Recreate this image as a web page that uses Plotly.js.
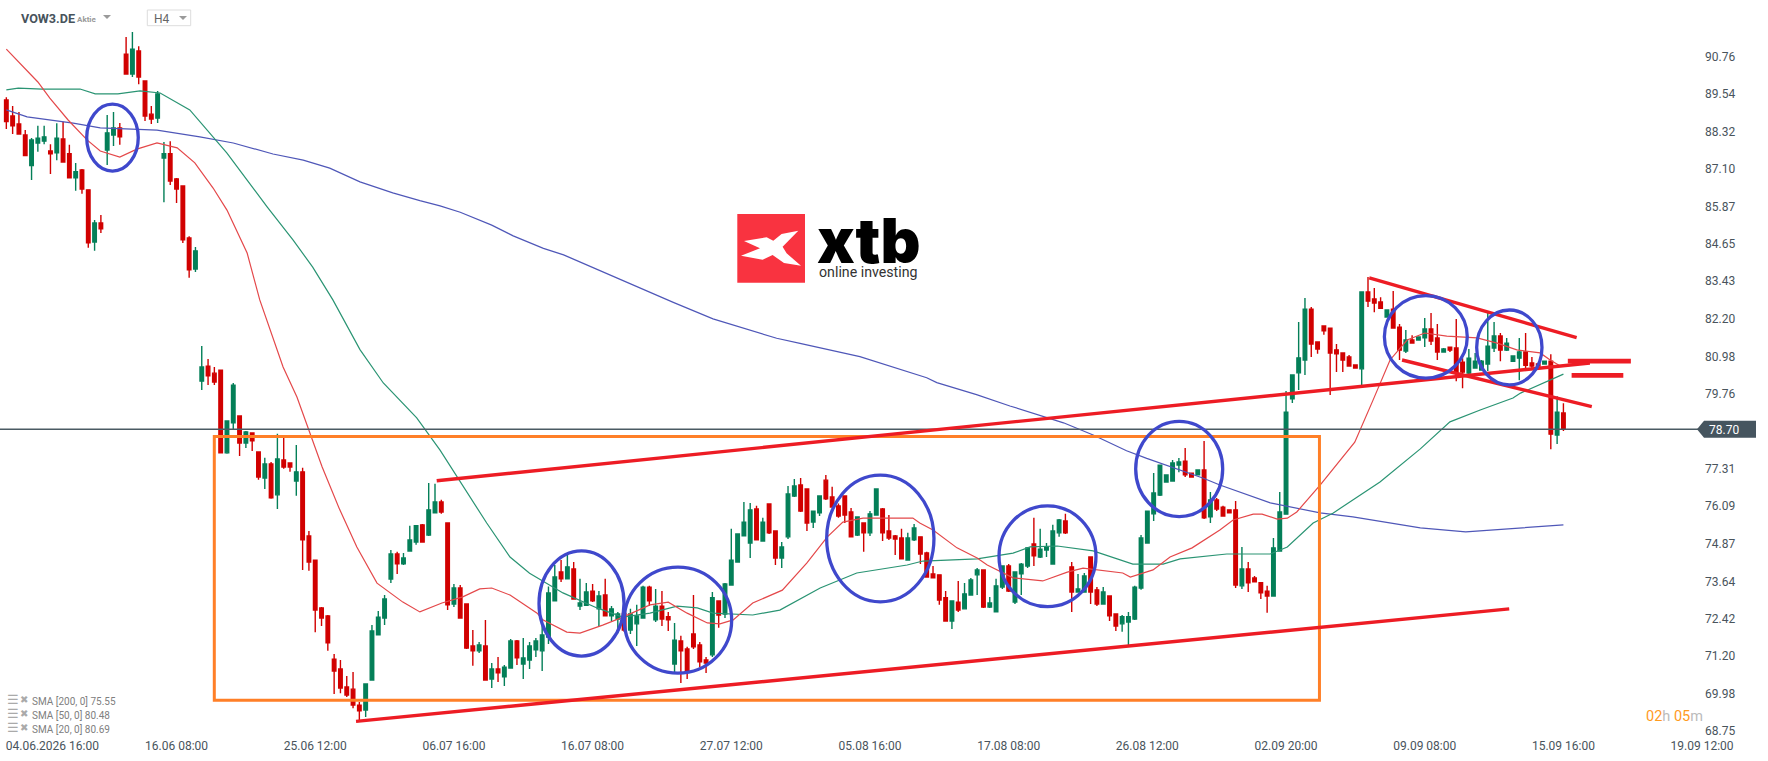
<!DOCTYPE html>
<html>
<head>
<meta charset="utf-8">
<script src="https://cdn.plot.ly/plotly-3.0.1.min.js"></script>
<style>html,body{margin:0;padding:0;background:#fff;overflow:hidden}#c{width:1768px;height:761px}</style>
</head>
<body>
<div id="c"></div>
<script>
const open = [89.44,88.92,88.66,88.30,87.30,88.04,88.10,87.78,87.72,88.17,
87.69,86.90,87.16,86.51,84.81,85.43,87.81,88.30,88.53,90.94,
90.29,91.04,90.06,88.98,88.85,87.55,87.69,86.87,86.64,84.94,
83.93,80.27,80.76,80.53,80.63,77.93,78.91,79.13,78.25,78.58,
77.96,77.11,77.57,76.56,77.70,77.60,77.01,77.31,75.22,74.43,
72.87,72.61,71.20,70.88,70.29,70.22,69.70,69.54,70.52,71.99,
72.54,73.81,74.63,74.31,74.73,75.02,75.58,75.25,75.97,76.33,
75.64,73.00,73.52,73.00,71.63,71.47,71.63,70.55,70.88,70.62,
70.91,71.79,71.04,71.17,71.50,71.47,71.92,73.10,74.04,73.82,
74.14,72.93,72.96,73.42,72.84,73.29,72.61,72.51,72.69,72.15,
72.35,72.54,73.55,72.48,72.93,72.58,71.04,71.79,71.53,72.02,
71.66,71.17,71.34,73.10,72.67,73.62,74.37,75.22,74.99,76.10,
75.05,76.26,75.38,74.50,75.19,76.52,76.88,76.75,75.67,75.97,
77.04,76.49,76.20,76.52,76.00,75.25,75.64,75.32,75.90,76.10,
75.38,75.22,75.15,74.43,75.09,75.19,74.66,73.98,73.95,73.20,
72.44,73.06,72.84,73.29,73.95,74.11,72.90,72.74,73.55,74.24,
73.06,73.98,74.24,74.96,74.53,74.76,74.30,75.32,75.71,74.21,
73.39,73.39,74.53,73.46,73.00,73.26,72.67,72.35,72.41,72.51,
73.52,74.99,75.94,76.55,76.98,77.01,77.53,77.66,77.27,77.21,
77.37,75.84,76.39,76.16,76.07,76.07,73.59,74.14,73.85,73.69,
73.42,73.26,74.73,75.93,79.69,80.54,80.96,82.62,81.55,82.07,
82.00,81.29,81.19,81.06,80.80,80.67,83.18,82.95,82.85,82.36,
82.62,82.03,81.25,81.61,81.61,81.68,81.97,81.68,81.22,81.38,
81.35,80.89,80.53,80.70,80.63,80.83,81.35,81.74,81.28,80.92,
81.02,81.22,80.86,80.83,80.83,80.92,78.51,79.23];
const high = [89.53,89.25,89.05,88.46,88.20,88.60,88.60,88.00,88.68,88.73,
87.98,87.39,87.19,86.51,85.53,85.69,88.95,89.05,88.69,91.50,
91.66,91.20,90.06,89.25,89.74,88.07,88.10,86.90,86.64,85.00,
84.65,81.42,80.99,80.73,80.63,78.97,80.21,79.13,78.64,78.58,
77.96,77.77,77.63,78.55,78.42,77.60,78.19,77.44,75.38,74.43,
72.90,72.64,71.37,71.17,70.65,70.78,69.80,70.39,72.31,72.77,
73.29,74.76,74.70,74.66,75.55,75.55,75.61,76.95,76.92,76.40,
75.64,73.65,73.62,73.00,72.15,71.76,72.48,71.07,71.27,71.01,
71.86,71.82,71.89,71.76,71.89,72.31,73.57,74.27,74.43,74.60,
74.37,73.82,73.68,73.65,73.42,73.82,72.93,72.74,72.80,72.84,
72.97,73.59,73.59,73.49,73.42,72.74,72.38,71.96,71.60,73.29,
71.76,71.27,73.39,73.10,73.68,75.45,75.28,76.33,76.29,76.20,
75.81,76.26,75.38,75.02,76.85,77.08,77.11,76.75,76.03,76.52,
77.21,76.82,76.28,76.52,76.13,75.84,75.64,76.03,76.75,76.13,
75.90,75.25,75.45,75.32,75.61,75.19,74.70,74.24,73.95,73.42,
73.10,73.75,73.68,73.85,74.17,74.11,73.23,73.82,74.24,74.30,
74.04,74.34,74.86,75.81,75.45,74.99,75.58,75.77,75.94,74.37,
73.98,74.01,74.53,73.55,73.55,73.26,72.67,72.64,72.74,73.59,
75.25,76.03,77.27,77.53,77.21,77.70,77.76,78.09,77.27,77.37,
78.32,76.65,76.46,76.20,76.07,76.36,74.86,74.37,73.91,73.69,
73.59,75.15,76.65,79.95,80.47,82.20,82.98,82.69,81.55,82.07,
82.00,81.48,81.19,81.12,80.80,83.18,83.67,83.31,83.01,82.59,
83.21,82.13,81.94,81.77,81.71,82.33,82.49,82.13,81.35,81.38,
82.30,81.02,81.32,81.19,80.96,82.49,82.20,81.84,81.68,81.09,
81.68,81.84,81.06,80.86,80.92,81.15,79.78,79.55];
const low = [88.50,88.33,88.33,87.63,86.83,87.75,88.00,87.03,87.48,87.42,
86.90,86.48,86.38,84.62,84.52,85.10,87.32,87.94,87.98,90.29,
90.19,89.96,88.76,88.66,88.69,86.11,86.67,86.08,84.78,83.64,
83.83,79.98,80.14,80.14,77.93,77.90,78.71,77.83,78.09,77.99,
77.05,76.75,76.43,76.10,77.41,77.31,76.53,74.11,74.08,72.08,
72.28,71.47,70.06,70.09,69.96,69.60,69.18,69.31,70.52,71.99,
72.31,73.68,73.98,74.27,74.73,74.93,75.02,75.22,75.97,75.94,
72.80,72.90,72.54,71.53,70.98,71.40,70.52,70.26,70.45,70.32,
70.91,71.01,70.55,70.88,71.27,70.81,71.69,73.10,73.72,73.82,
73.16,72.80,72.93,73.06,72.28,72.61,72.44,72.04,72.09,72.02,
71.63,72.54,72.93,72.41,72.28,72.12,70.78,70.42,70.55,71.53,
70.94,70.75,71.27,72.22,72.54,73.62,74.37,75.22,74.50,75.09,
75.05,75.28,74.27,74.17,75.12,76.49,76.00,75.38,75.48,75.87,
76.39,76.16,75.81,75.64,75.19,75.22,74.70,75.22,75.90,75.05,
75.09,74.60,74.47,74.43,75.05,74.30,73.88,73.85,72.97,72.44,
72.18,72.74,72.84,73.29,73.29,72.87,72.87,72.74,73.49,73.39,
73.00,73.29,74.17,74.24,74.50,74.53,74.30,75.19,75.28,72.74,
73.39,73.39,73.00,72.93,73.00,72.44,72.12,72.09,71.66,72.48,
73.46,74.99,75.71,76.52,76.98,77.01,77.30,77.14,77.14,77.21,
75.77,75.64,76.03,75.87,75.97,73.52,73.49,73.39,73.72,73.16,
72.71,73.26,74.70,75.93,79.56,79.98,80.47,81.06,81.16,81.78,
79.82,80.57,80.57,80.76,80.67,80.14,82.69,82.52,82.65,82.36,
82.00,80.96,81.19,81.51,81.61,81.38,81.45,80.96,81.22,81.22,
80.27,80.04,80.50,80.70,80.63,80.60,81.22,80.92,81.25,80.92,
80.30,80.66,80.70,80.76,80.83,78.05,78.22,78.64];
const close = [88.74,88.60,88.33,87.63,88.14,88.20,88.24,87.69,88.20,87.42,
86.90,87.10,86.54,84.78,85.43,85.24,88.37,88.53,88.24,90.29,
91.10,90.19,88.92,88.82,89.64,87.69,86.80,86.54,84.88,83.90,
84.52,80.73,80.44,80.24,77.93,78.97,80.14,78.25,78.61,78.32,
77.14,77.57,76.46,77.73,77.47,77.47,77.31,75.09,74.37,72.80,
72.54,71.73,70.81,70.26,70.03,69.70,69.51,70.39,72.12,72.57,
73.16,74.63,74.31,74.50,75.09,75.55,75.02,76.07,76.33,76.00,
72.97,73.52,72.54,71.56,71.47,71.66,70.52,70.88,70.75,70.94,
71.79,71.24,71.24,71.63,71.79,71.99,73.36,73.88,73.82,74.21,
73.16,73.03,73.39,73.10,73.26,72.61,72.84,72.67,72.15,72.67,
72.61,73.55,73.10,72.93,72.51,72.48,71.82,71.47,70.78,71.60,
71.11,71.07,73.20,72.64,73.65,74.43,75.28,75.67,76.07,75.09,
75.67,75.32,74.50,74.86,76.59,76.85,76.03,75.64,76.03,76.52,
76.43,76.16,75.87,75.90,75.19,75.84,75.32,75.94,76.75,75.32,
75.15,75.12,74.47,75.15,75.48,74.63,73.88,73.85,73.13,72.44,
73.10,72.80,73.33,73.78,74.11,72.90,73.03,73.59,74.24,73.42,
74.04,74.30,74.83,74.57,74.79,74.86,75.38,75.74,75.32,73.39,
73.49,73.91,73.39,73.00,73.39,72.61,72.28,72.58,72.58,73.55,
75.15,76.03,76.62,77.53,77.21,77.60,77.63,77.21,77.14,77.37,
75.81,76.39,76.10,75.87,75.97,73.62,74.14,73.69,73.72,73.36,
73.26,74.83,76.00,79.26,80.47,81.03,82.62,81.48,81.32,81.91,
81.19,81.16,80.96,80.76,80.70,83.18,82.88,82.82,82.65,82.59,
82.00,81.28,81.61,81.51,81.71,81.97,81.58,81.22,81.32,81.28,
80.57,80.57,81.02,80.92,80.92,81.41,81.74,81.28,81.51,81.09,
81.22,80.79,80.76,80.76,80.92,78.54,79.26,78.70];
const sma20Idx = [0,5,6.9,9.8,12.8,14.9,18,20.7,23.9,27.1,29.9,32.8,35,38.2,40.2,43.9,46.1,48.2,50.1,52.9,55.6,58.8,62.9,65.6,69.1,72.4,75.1,77,79.9,84.2,85.1,88.9,91,94.6,97.8,102.1,105,108,111.2,113.2,115.3,118.4,123.1,127,130.2,132.7,135.9,143.8,144.9,147,150.8,154,155.6,159.7,164.4,168.3,170.8,177.1,178.3,181.9,184.6,188.1,192.5,194.6,197.8,199.2,201.6,203.2,204.7,208.4,213.9,216.8,219.5,222.2,225,228.5,233.3,236.5,239.6,243.3,244.9,246.5];
const sma20Val = [91.1,90.03,89.5,88.79,88.14,87.78,87.58,87.84,88.04,87.88,87.39,86.57,85.85,84.45,82.92,80.73,79.75,78.58,77.47,76.07,74.86,73.68,73.06,72.74,73.03,73.23,73.49,73.52,73.29,72.7,72.48,72.08,72.05,72.31,72.57,72.97,73.06,72.7,72.38,72.35,72.48,73.03,73.45,74.34,75.18,75.67,75.8,75.8,75.64,75.41,74.83,74.5,74.27,73.85,73.75,74.04,74.17,74.01,73.88,74.11,74.53,74.83,75.41,75.74,75.93,75.93,75.77,75.8,76,76.88,78.28,79.65,80.96,81.61,81.84,81.74,81.68,81.51,81.29,81.19,80.96,80.76];
const sma50Idx = [0,1.9,5.7,11.7,14.1,17.7,21.2,24.4,29.1,31.2,35,38.2,41.4,45.5,48.6,51.8,56.1,59.8,65.1,68.8,71.5,76.2,79.9,83,88.3,93.7,97.8,102.1,106.4,109.6,112.1,118.4,122.7,129.1,132.2,134.9,142.9,145.4,154,159.7,162.4,166.7,172.4,178.7,183.5,186.2,193.6,200.5,203.2,207.3,210.5,217.9,224.3,229,233.8,239,240.2,247];
const sma50Val = [89.77,89.83,89.8,89.8,89.64,89.64,89.74,89.67,89.12,88.63,87.71,86.83,85.95,84.87,83.99,82.92,81.3,80.21,79.07,78.02,77.14,75.64,74.53,74,73.36,72.87,72.57,72.7,72.93,72.87,72.7,72.64,72.8,73.52,73.78,74.01,74.27,74.4,74.47,74.66,74.86,74.89,74.73,74.3,74.3,74.47,74.63,74.63,74.86,75.64,75.97,76.98,78.06,78.94,79.33,79.72,79.88,80.5];
const sma200Idx = [0,3.3,10.6,14.9,23.9,30.7,36,42.3,47.1,51.3,56.1,61.3,65.6,68.8,72,77,80.4,85.2,88.4,94.7,98.4,102.1,105.8,112.1,116.9,122.2,125.9,129.9,135.4,146,147.6,153.9,159.2,167.7,172.4,177.7,180.9,189.9,192.5,200.5,208.4,213.6,220,224.3,231.5,247];
const sma200Val = [89.12,88.89,88.69,88.53,88.46,88.24,88.04,87.68,87.48,87.22,86.77,86.41,86.16,85.99,85.78,85.36,85.01,84.6,84.39,83.82,83.51,83.17,82.84,82.3,82.01,81.67,81.5,81.32,81.07,80.38,80.22,79.83,79.46,78.91,78.51,78,77.75,77.1,76.88,76.3,75.97,75.84,75.61,75.48,75.35,75.58];
const priceTicks = ["90.76","89.54","88.32","87.10","85.87","84.65","83.43","82.20","80.98","79.76","78.54","77.31","76.09","74.87","73.64","72.42","71.20","69.98","68.75"];
const timeTickIdx = [7.3,27,49,71,93,115,137,159,181,203,225,247,269];
const timeTickText = ["04.06.2026 16:00","16.06 08:00","25.06 12:00","06.07 16:00","16.07 08:00","27.07 12:00","05.08 16:00","17.08 08:00","26.08 12:00","02.09 20:00","09.09 08:00","15.09 16:00","19.09 12:00"];
const lastPrice = 78.70;
const legendLabels = ["SMA [200, 0] 75.55","SMA [50, 0] 80.48","SMA [20, 0] 80.69"];
// hand-drawn analyst markings, in (candle index, price)
const boxOrange = [32.99,69.857,208.3,78.463];
const redLines = [[68.27,77.02,251.2,80.86],[55.47,69.17,238.4,72.84],[216.2,83.64,249.1,81.69],[221.4,80.96,251.5,79.44]];
const redLevels = [[247.7,257.7,80.92],[248.3,256.5,80.46]];
const blueEllipses = [[12.75,87.12,20.93,89.31],[84.5,71.3,97.98,74.73],[98.03,70.74,115.06,74.2],[130.13,73.07,147.15,77.2],[157.47,72.91,172.85,76.2],[179.15,75.85,192.95,78.96],[218.6,80.37,231.75,83.06],[233.24,80.15,243.6,82.59]];

const W = 1704, H = 737;
const px = x => x / W, py = y => 1 - y / H;
const idx = open.map((_, i) => i);
const F = "Roboto, sans-serif";

const traces = [
  {type:'candlestick', x:idx, open, high, low, close,
   increasing:{line:{color:'#047f58',width:1.4},fillcolor:'#047f58'},
   decreasing:{line:{color:'#d10000',width:1.4},fillcolor:'#d10000'},
   whiskerwidth:0, showlegend:false, hoverinfo:'skip'},
  {type:'scatter',mode:'lines',x:sma200Idx,y:sma200Val,line:{color:'#4f57b8',width:1.2},hoverinfo:'skip'},
  {type:'scatter',mode:'lines',x:sma50Idx,y:sma50Val,line:{color:'#2a9473',width:1.2},hoverinfo:'skip'},
  {type:'scatter',mode:'lines',x:sma20Idx,y:sma20Val,line:{color:'#e4484a',width:1.2},hoverinfo:'skip'}
];

const shapes = [];
shapes.push({type:'line',xref:'paper',yref:'y',x0:0,x1:1,y0:lastPrice,y1:lastPrice,line:{color:'#4a5a63',width:1.3}});
shapes.push({type:'rect',xref:'x',yref:'y',x0:boxOrange[0],y0:boxOrange[1],x1:boxOrange[2],y1:boxOrange[3],line:{color:'#ff7f27',width:3}});
redLines.forEach(l=>shapes.push({type:'line',xref:'x',yref:'y',x0:l[0],y0:l[1],x1:l[2],y1:l[3],line:{color:'#ed1c24',width:3.4}}));
redLevels.forEach(l=>shapes.push({type:'line',xref:'x',yref:'y',x0:l[0],y0:l[2],x1:l[1],y1:l[2],line:{color:'#ed1c24',width:4.7}}));
blueEllipses.forEach(e=>shapes.push({type:'circle',xref:'x',yref:'y',x0:e[0],y0:e[1],x1:e[2],y1:e[3],line:{color:'#3f48cc',width:3.3}}));
// price tag
shapes.push({type:'path',xref:'paper',yref:'y',xsizemode:'pixel',ysizemode:'pixel',xanchor:1,yanchor:lastPrice,
  path:'M-7,0 L0,8.5 L52,8.5 L52,-8.5 L0,-8.5 Z',fillcolor:'#46555f',line:{width:0}});
// logo
shapes.push({type:'rect',xref:'paper',yref:'paper',x0:px(737.3),x1:px(805),y0:py(282.7),y1:py(214),fillcolor:'#f93340',line:{width:0}});
shapes.push({type:'path',xref:'paper',yref:'paper',xsizemode:'pixel',ysizemode:'pixel',xanchor:px(737.3),yanchor:py(214),
  path:'M6.7,-27 L29.3,-23.3 L36,-26.7 L44.3,-20 L61,-16.7 L45.3,-32.7 L49.3,-39.3 L63.7,-51.7 L46.7,-49 L35.3,-41 L25.3,-45.7 L3.7,-41.7 L22.7,-34.3 Z',fillcolor:'#ffffff',line:{width:0}});
// H4 selector and triangles
shapes.push({type:'rect',xref:'paper',yref:'paper',x0:px(147.3),x1:px(190.7),y0:py(25.7),y1:py(10),fillcolor:'#ffffff',line:{color:'#dddddd',width:1}});
[[103,111,15,19],[179,187,16,20]].forEach(t=>shapes.push({type:'path',xref:'paper',yref:'paper',xsizemode:'pixel',ysizemode:'pixel',xanchor:px(t[0]),yanchor:py(t[2]),
  path:'M0,0 L'+(t[1]-t[0])+',0 L'+((t[1]-t[0])/2)+',-'+(t[3]-t[2])+' Z',fillcolor:'#9a9a9a',line:{width:0}}));

const ann = (text,x,y,size,color,extra) => Object.assign({xref:'paper',yref:'paper',x:px(x),y:py(y),text,showarrow:false,xanchor:'left',yanchor:'middle',align:'left',font:{family:F,size,color}},extra||{});
const annotations = [
  ann('<b>VOW3.DE</b>',19,19,12.6,'#47535c'),
  ann('<b>Aktie</b>',75,19.5,8,'#9a9a9a'),
  ann('H4',152,19,12,'#666666'),
  {xref:'paper',yref:'y',x:1,xanchor:'left',xshift:3,y:lastPrice,yanchor:'middle',yshift:-1,text:lastPrice.toFixed(2),showarrow:false,font:{family:F,size:12,color:'#ffffff'}},
  ann('<span style="color:#ff9a1e">02</span><span style="color:#bbbbbb">h</span> <span style="color:#ff9a1e">05</span><span style="color:#bbbbbb">m</span>',1644,716.5,14.5,'#bbbbbb'),
  Object.assign(ann('xtb',815,241,62,'#000000'),{font:{family:'Inter, "Liberation Sans", sans-serif',size:62,color:'#000000',weight:900}}),
  ann('online investing',816.5,272.5,14.2,'#333333')
];
legendLabels.forEach((t,i)=>{
  const y = 701.3 + i*14;
  annotations.push(ann(t,30,y,10,'#808080'));
  annotations.push(Object.assign(ann('☰',4.5,y-2,13,'#aaaaaa'),{font:{family:'"DejaVu Sans"',size:13,color:'#aaaaaa'}}));
  annotations.push(Object.assign(ann('✖',18,y-2,10,'#aaaaaa'),{font:{family:'"DejaVu Sans"',size:10,color:'#aaaaaa'}}));
});

const layout = {
  width:1768,height:761,margin:{l:0,r:64,t:0,b:24,pad:0},
  paper_bgcolor:'#ffffff',plot_bgcolor:'#ffffff',showlegend:false,boxgap:0.2,
  font:{family:F,size:12,color:'#49545c'},
  xaxis:{type:'linear',range:[-1.004,269.3],tickmode:'array',tickvals:timeTickIdx,ticktext:timeTickText,
    showgrid:false,zeroline:false,showline:false,ticks:'',rangeslider:{visible:false},fixedrange:true,
    tickfont:{family:F,size:12,color:'#49545c'},tickangle:0},
  yaxis:{type:'linear',side:'right',range:[68.659,92.705],tickmode:'array',tickvals:priceTicks.map(Number),ticktext:priceTicks,
    showgrid:false,zeroline:false,showline:false,ticks:'',fixedrange:true,ticklabelshift:-3,
    tickfont:{family:F,size:12,color:'#49545c'}},
  shapes,annotations
};
Plotly.newPlot('c',traces,layout,{displayModeBar:false,staticPlot:true});
</script>
</body>
</html>
